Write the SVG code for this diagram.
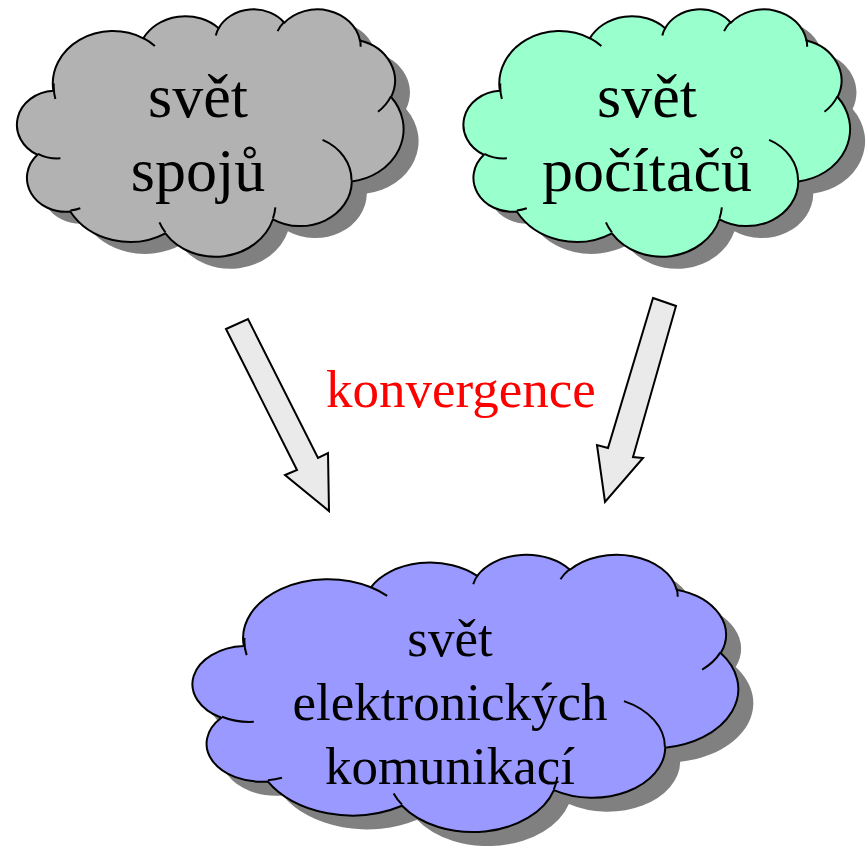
<svg xmlns="http://www.w3.org/2000/svg" xmlns:xlink="http://www.w3.org/1999/xlink" width="867" height="846" viewBox="0 0 867 846">
<style>
.shadow{fill:#808080;stroke:none}
.outline{stroke:#000;stroke-width:2;stroke-linejoin:round}
.lines{fill:none;stroke:#000;stroke-width:2}
.label{font-family:"Liberation Serif","Times New Roman",serif;text-anchor:middle;fill:#000}
.big{font-size:62px}
.mid{font-size:53px}
.arrow{fill:#eaeaea;stroke:#000;stroke-width:2;stroke-linejoin:miter}
</style>
<defs>
<path id="cloud" vector-effect="non-scaling-stroke" d="M3900 14370A6753 9190 0 0 1 14005 5202A5333 7267 0 0 1 22457 3434A4365 5945 0 0 1 29835 2484A4857 6595 0 0 1 38320 5579A5333 7273 0 0 1 41821 15463A6775 9220 0 0 1 37407 30206A5785 7867 0 0 1 28558 36816A6752 9215 0 0 1 16482 39266A7720 10543 0 0 1 5804 35470A4360 5918 0 0 1 2111 25551A4345 5945 0 0 1 3900 14370Z"/>
<path id="cloudLines" vector-effect="non-scaling-stroke" d="M4693 26177A4345 5945 0 0 1 2160 25380M6928 34899A4360 5918 0 0 1 5819 35281M16478 39090A6752 9215 0 0 1 15811 37350M28827 34751A6752 9215 0 0 1 28560 36660M34129 22954A5785 7867 0 0 1 37380 30089M41798 15354A5333 7273 0 0 1 40349 18031M38324 5426A4857 6595 0 0 1 38400 6690M29078 3952A4857 6595 0 0 1 29820 2340M22141 4720A4365 5945 0 0 1 22500 3331M14000 5192A6753 9190 0 0 1 15300 6541M4127 15789A6753 9190 0 0 1 3956 13102"/>
</defs>

<g id="connectors">
<polygon class="arrow" points="226,329 248,319 318,458 328,453 329,511 285,475 297,470"/>
<polygon class="arrow" points="653,298 676,306 633,457 643,458 605,502 597,445 608,448"/>
</g>

<g id="label-konvergence">
<text class="label mid" x="461" y="407" fill="#ff0000" style="fill:#ff0000">konvergence</text>
</g>

<g id="cloud-spoje">
<use xlink:href="#cloud" class="shadow" transform="translate(33.6,20.5) scale(0.008907,0.005725)"/>
<use xlink:href="#cloud" class="outline" fill="#b2b2b2" transform="translate(18.6,8.5) scale(0.008907,0.005725)"/>
<use xlink:href="#cloudLines" class="lines" transform="translate(18.6,8.5) scale(0.008907,0.005725)"/>
<text class="label big" x="198" y="117">svět</text>
<text class="label big" x="198" y="191">spojů</text>
</g>

<g id="cloud-pocitace">
<use xlink:href="#cloud" class="shadow" transform="translate(480.1,20.5) scale(0.008907,0.005725)"/>
<use xlink:href="#cloud" class="outline" fill="#99ffcc" transform="translate(465.1,8.5) scale(0.008907,0.005725)"/>
<use xlink:href="#cloudLines" class="lines" transform="translate(465.1,8.5) scale(0.008907,0.005725)"/>
<text class="label big" x="647" y="117">svět</text>
<text class="label big" x="647" y="191">počítačů</text>
</g>

<g id="cloud-komunikace">
<use xlink:href="#cloud" class="shadow" transform="translate(209.8,567.9) scale(0.012575,0.006415)"/>
<use xlink:href="#cloud" class="outline" fill="#9999ff" transform="translate(194.8,553.9) scale(0.012575,0.006415)"/>
<use xlink:href="#cloudLines" class="lines" transform="translate(194.8,553.9) scale(0.012575,0.006415)"/>
<text class="label mid" x="450" y="656">svět</text>
<text class="label mid" x="450" y="720">elektronických</text>
<text class="label mid" x="450" y="784">komunikací</text>
</g>
</svg>
